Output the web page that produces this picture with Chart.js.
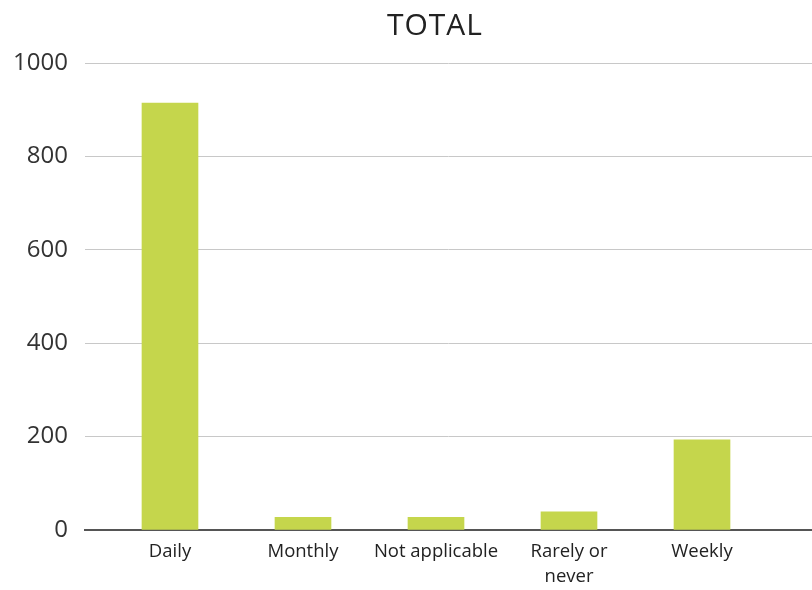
<!DOCTYPE html>
<html>
<head>
<meta charset="utf-8">
<script src="https://cdn.jsdelivr.net/npm/chart.js@4/dist/chart.umd.min.js"></script>
<style>
  body { margin: 0; background: #fff; }
  #wrap { position: relative; width: 812px; height: 590px; }
  #title {
    position: absolute; left: 335px; width: 200px; top: 3px;
    text-align: center; font: 30px "Open Sans", sans-serif;
    letter-spacing: 1px; color: #222;
  }
</style>
</head>
<body>
<div id="wrap">
  <canvas id="totalChart" width="812" height="590"></canvas>
  <div id="title">TOTAL</div>
</div>
<script>
// dati
var categories = ['Daily', 'Monthly', 'Not applicable', ['Rarely or', 'never'], 'Weekly'];
var values = [914, 27, 27, 39, 193];
var yTicks = [0, 200, 400, 600, 800, 1000];

var points = values.map(function (v, i) { return { x: i, y: v }; });

var ctx = document.getElementById('totalChart').getContext('2d');
var totalChart = new Chart(ctx, {
    type: 'bar',
    data: {
        datasets: [{
            label: 'TOTAL',
            data: points,
            backgroundColor: '#c5d64c',
            barThickness: 56
        }]
    },
    options: {
        responsive: false,
        animation: false,
        layout: { padding: { top: 63, left: 0, right: 0, bottom: 0 } },
        plugins: {
            legend: { display: false },
            tooltip: { enabled: false }
        },
        scales: {
            x: {
                type: 'linear',
                offset: false,
                min: -0.639,
                max: 4.827,
                grid: { display: false, drawTicks: false, offset: false },
                border: { color: '#555', width: 2 },
                afterFit: function (scale) { scale.height = 60; },
                ticks: {
                    stepSize: 1,
                    includeBounds: false,
                    autoSkip: false,
                    maxRotation: 0,
                    padding: 9,
                    color: '#222',
                    font: { family: 'Open Sans', size: 18.5, lineHeight: 1.35 },
                    callback: function (v) {
                        return Number.isInteger(v) && categories[v] !== undefined ? categories[v] : '';
                    }
                }
            },
            y: {
                min: yTicks[0],
                max: yTicks[yTicks.length - 1],
                grid: { color: '#c8c8c8', drawTicks: false },
                border: { display: false },
                afterFit: function (scale) { scale.width = 85; },
                ticks: {
                    stepSize: 200,
                    padding: 17,
                    color: '#333',
                    font: { family: 'Open Sans', size: 24 },
                    callback: function (v) { return String(v); }
                }
            }
        }
    }
});
</script>
</body>
</html>
